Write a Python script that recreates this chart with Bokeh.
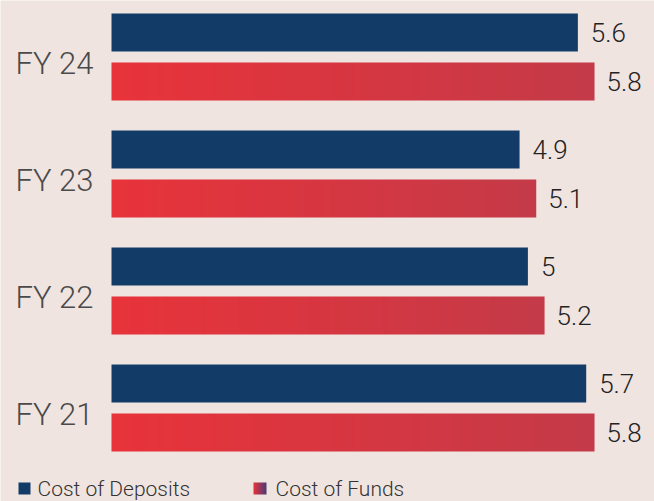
import numpy as np
from bokeh.plotting import figure
from bokeh.models import Range1d
from bokeh.core.properties import value
from bokeh.embed import file_html
from bokeh.resources import INLINE

# ---- data ----
years = ["FY 24", "FY 23", "FY 22", "FY 21"]
cost_of_deposits = [5.6, 4.9, 5.0, 5.7]
cost_of_funds = [5.8, 5.1, 5.2, 5.8]
deposit_labels = ["5.6", "4.9", "5", "5.7"]
funds_labels = ["5.8", "5.1", "5.2", "5.8"]
series_names = ["Cost of Deposits", "Cost of Funds"]

# ---- styling / layout ----
BG = "#f0e4e1"
BLUE = "#123c67"
RED_L = (232, 51, 58)
RED_R = (196, 58, 72)
LEG_R = (74, 58, 120)
W, H = 654, 501
PX_PER_UNIT = 83.28       # px per value unit
PX_PER_GROUP = 117.0      # px per year group
X0_PX = 111               # px where value 0 sits
TOP_CENTER_PX = 56.5      # px (from top) of first group centre

def px_x(px):
    return (px - X0_PX) / PX_PER_UNIT

x_start = px_x(0)
x_end = px_x(W)
n = len(years)
top_y = (n - 1) + TOP_CENTER_PX / PX_PER_GROUP
y_start = top_y - H / PX_PER_GROUP

def px_y(py):
    return top_y - py / PX_PER_GROUP

p = figure(width=W, height=H, output_backend="svg", toolbar_location=None,
           x_range=Range1d(x_start, x_end), y_range=Range1d(y_start, top_y),
           min_border=0, background_fill_color=BG, border_fill_color=BG)
p.axis.visible = False
p.grid.visible = False
p.outline_line_color = None

centers = [n - 1 - i for i in range(n)]
off = 24.5 / PX_PER_GROUP
bh = 38 / PX_PER_GROUP
blue_y = [c + off for c in centers]
red_y = [c - off for c in centers]

p.hbar(y=blue_y, right=cost_of_deposits, left=0, height=bh,
       fill_color=BLUE, line_color=None)

# gradient red bars via RGBA images spanning each bar
def gradient(c1, c2, N=256):
    t = np.linspace(0, 1, N)
    img = np.zeros((1, N), dtype=np.uint32)
    view = img.view(dtype=np.uint8).reshape((1, N, 4))
    for k in range(3):
        view[0, :, k] = np.round(c1[k] + (c2[k] - c1[k]) * t).astype(np.uint8)
    view[0, :, 3] = 255
    return img

grad = gradient(RED_L, RED_R)
p.image_rgba(image=[grad] * n, x=[0] * n, y=[y - bh / 2 for y in red_y],
             dw=cost_of_funds, dh=[bh] * n)

font = value("Roboto Light")
p.text(x=cost_of_deposits, y=blue_y, text=deposit_labels, x_offset=13,
       text_font=font, text_font_size="26px", text_color="#222222",
       text_baseline="middle", text_align="left")
p.text(x=cost_of_funds, y=red_y, text=funds_labels, x_offset=12,
       text_font=font, text_font_size="26px", text_color="#222222",
       text_baseline="middle", text_align="left")

# year labels
p.text(x=[px_x(93)] * n, y=centers, text=years, text_font=font,
       text_font_size="31px", text_color="#4a4a4a", y_offset=6,
       text_baseline="middle", text_align="right")

# legend (drawn manually)
leg_y = px_y(488)
p.rect(x=[px_x(24)], y=[leg_y], width=12, height=12,
       width_units="screen", height_units="screen",
       fill_color=BLUE, line_color=None)
p.image_rgba(image=[gradient(RED_L, LEG_R)], x=[px_x(253)], y=[px_y(494)],
             dw=[13 / PX_PER_UNIT], dh=[12 / PX_PER_GROUP])
p.text(x=[px_x(37), px_x(275)], y=[leg_y, leg_y],
       text=series_names, text_font=font, text_font_size="21px",
       text_color="#333333", text_baseline="middle", text_align="left")

html = file_html(p, INLINE)
open("out.html", "w").write(html)
